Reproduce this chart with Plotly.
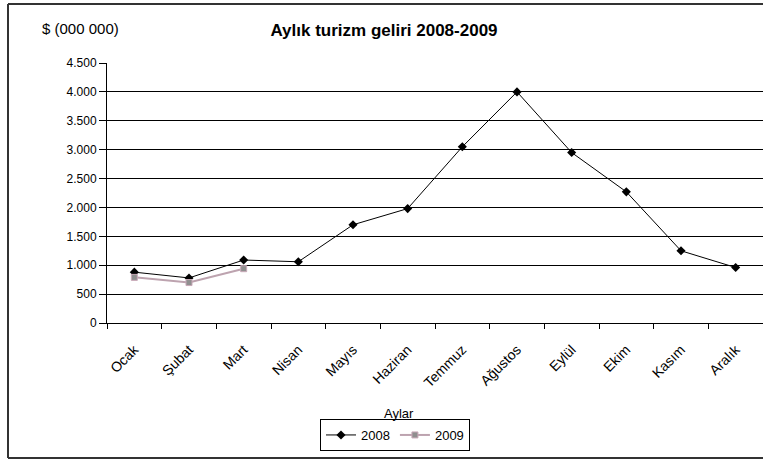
import plotly.graph_objects as go

# Monthly tourism revenue, million USD
months = ["Ocak", "Şubat", "Mart", "Nisan", "Mayıs", "Haziran",
          "Temmuz", "Ağustos", "Eylül", "Ekim", "Kasım", "Aralık"]
rev_2008 = [880, 780, 1090, 1060, 1700, 1980, 3050, 4000, 2950, 2270, 1250, 960]
months_2009 = ["Ocak", "Şubat", "Mart"]
rev_2009 = [790, 700, 940]

y_ticks = [0, 500, 1000, 1500, 2000, 2500, 3000, 3500, 4000, 4500]
y_tick_text = ["0", "500", "1.000", "1.500", "2.000", "2.500",
               "3.000", "3.500", "4.000", "4.500"]
grid_vals = y_ticks[1:-1]

W, H = 763, 459
L, R, T, B = 107, 0, 63, 136
PW, PH = W - L - R, H - T - B


def px_x(x):
    return (x - L) / PW


def px_y(y):
    return (H - B - y) / PH


FONT = "Liberation Sans, Arial, sans-serif"

fig = go.Figure()
fig.add_trace(go.Scatter(
    x=months, y=rev_2008, name="2008", mode="lines+markers",
    line=dict(color="black", width=1),
    marker=dict(symbol="diamond", size=7, color="black"),
))
fig.add_trace(go.Scatter(
    x=months_2009, y=rev_2009, name="2009", mode="lines+markers",
    line=dict(color="#bda3af", width=2),
    marker=dict(symbol="square", size=6, color="#8f8f8f",
                line=dict(color="#c9a9b8", width=1)),
))
# invisible trace that carries the horizontal gridlines on an overlay axis
fig.add_trace(go.Scatter(x=months, y=[None] * len(months), yaxis="y2",
                         showlegend=False, hoverinfo="skip"))

fig.update_layout(
    width=W, height=H,
    margin=dict(l=L, r=R, t=T, b=B),
    paper_bgcolor="white", plot_bgcolor="white",
    font=dict(family=FONT, size=12, color="black"),
    showlegend=True,
    title=dict(text="<b>Aylık turizm geliri 2008-2009</b>",
               x=384 / W, xref="container", xanchor="center",
               y=1 - 30 / H, yref="container", yanchor="middle",
               font=dict(family=FONT, size=17, color="black")),
    xaxis=dict(
        type="category", categoryorder="array", categoryarray=months,
        range=[-0.5, 11.5], tickson="boundaries",
        ticks="outside", ticklen=5, tickcolor="black",
        showline=True, linecolor="black", linewidth=1,
        showgrid=False, tickangle=-45, ticklabelstandoff=12,
        tickfont=dict(family=FONT, size=14, color="black"),
        zeroline=False, fixedrange=True,
    ),
    yaxis=dict(
        range=[0, 4500], tickvals=y_ticks, ticktext=y_tick_text,
        ticks="outside", ticklen=7, tickcolor="black",
        showline=True, linecolor="black", linewidth=1,
        showgrid=False, zeroline=False,
        tickfont=dict(family=FONT, size=12, color="black"),
    ),
    yaxis2=dict(
        overlaying="y", range=[0, 4500], tickvals=grid_vals,
        showticklabels=False, ticks="", showgrid=True,
        gridcolor="black", gridwidth=1, zeroline=False, showline=False,
    ),
    legend=dict(orientation="h", x=px_x(395), y=px_y(435),
                xanchor="center", yanchor="middle",
                bordercolor="black", borderwidth=1, bgcolor="white",
                font=dict(family=FONT, size=13, color="black"),
                itemwidth=30, tracegroupgap=0),
)

fig.add_annotation(text="Aylar", xref="paper", yref="paper",
                   x=px_x(399), y=px_y(413), showarrow=False,
                   xanchor="center", yanchor="middle",
                   font=dict(family=FONT, size=13, color="black"))
fig.add_annotation(text="$ (000 000)", xref="paper", yref="paper",
                   x=px_x(40), y=px_y(28), showarrow=False,
                   xanchor="left", yanchor="middle",
                   font=dict(family=FONT, size=15, color="black"))

# outer chart frame: left, top and bottom edges
frame = dict(color="#333333", width=2)
fig.add_shape(type="line", xref="paper", yref="paper",
              x0=px_x(8), x1=px_x(8), y0=px_y(458), y1=px_y(4), line=frame)
fig.add_shape(type="line", xref="paper", yref="paper",
              x0=px_x(8), x1=px_x(W + 5), y0=px_y(4), y1=px_y(4), line=frame)
fig.add_shape(type="line", xref="paper", yref="paper",
              x0=px_x(8), x1=px_x(W + 5), y0=px_y(458), y1=px_y(458), line=frame)

fig.write_html("out.html")
